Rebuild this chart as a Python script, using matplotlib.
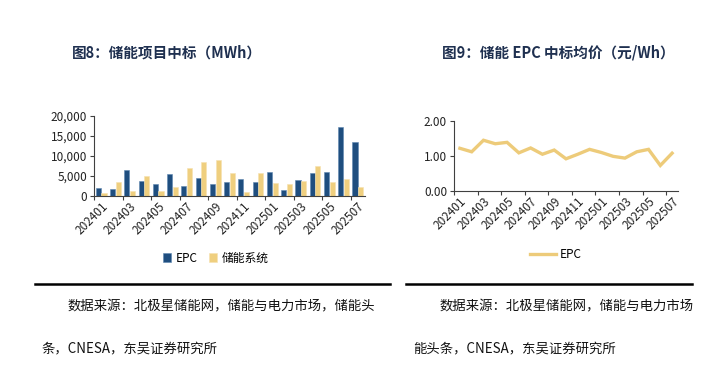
import matplotlib
matplotlib.use("Agg")
import matplotlib.pyplot as plt
import numpy as np

plt.rcParams['font.family'] = ['Noto Sans CJK SC', 'DejaVu Sans']

months = ["202401", "202402", "202403", "202404", "202405", "202406", "202407",
          "202408", "202409", "202410", "202411", "202412", "202501", "202502",
          "202503", "202504", "202505", "202506", "202507"]
epc_mwh = [2000, 1700, 6600, 3800, 3100, 5600, 2600, 4500, 3100, 3600, 4300,
           3600, 6100, 1500, 4000, 5800, 5900, 17300, 13500]
system_mwh = [800, 3500, 1200, 5100, 1300, 2300, 6900, 8500, 9000, 5800, 1000,
              5800, 3200, 3100, 3700, 7600, 3600, 4300, 2200]
epc_price = [1.22, 1.12, 1.45, 1.35, 1.39, 1.09, 1.23, 1.05, 1.17, 0.92, 1.05,
             1.19, 1.10, 0.99, 0.94, 1.12, 1.19, 0.73, 1.08]

title_left = "图8：储能项目中标（MWh）"
title_right = "图9：储能 EPC 中标均价（元/Wh）"
src1_left = "数据来源：北极星储能网，储能与电力市场，储能头"
src2_left = "条，CNESA，东吴证券研究所"
src1_right = "数据来源：北极星储能网，储能与电力市场"
src2_right = "能头条，CNESA，东吴证券研究所"

W, H = 711, 372
fig = plt.figure(figsize=(W / 100, H / 100), dpi=100)

def fx(px):
    return px / W

def fy(py):
    return 1 - py / H

blue = "#1F4E7F"
yellow = "#EFCF7F"
title_color = "#1F3050"
axis_color = "#404040"
x = np.arange(len(months))

# Left chart
axL = fig.add_axes([fx(94), fy(196), fx(365) - fx(94), fy(116) - fy(196)])
bw = 0.36
axL.bar(x - 0.2, epc_mwh, width=bw, color=blue, edgecolor="#5E86B0", linewidth=0.4, label="EPC")
axL.bar(x + 0.2, system_mwh, width=bw, color=yellow, edgecolor="#F6E2B0", linewidth=0.4, label="储能系统")
axL.set_xlim(-0.5, len(months) - 0.5)
axL.set_ylim(0, 20000)
axL.set_yticks([0, 5000, 10000, 15000, 20000])
axL.set_yticklabels([f"{v:,}" for v in [0, 5000, 10000, 15000, 20000]])

# Right chart
axR = fig.add_axes([fx(454), fy(191), fx(678) - fx(454), fy(121) - fy(191)])
axR.plot(x, epc_price, color="#EDCB7A", linewidth=2.4, label="EPC", solid_joinstyle="miter")
axR.set_xlim(-0.5, len(months) - 0.5)
axR.set_ylim(0, 2.0)
axR.set_yticks([0, 1.0, 2.0])
axR.set_yticklabels(["0.00", "1.00", "2.00"])

for ax in (axL, axR):
    for s in ("top", "right"):
        ax.spines[s].set_visible(False)
    for s in ("left", "bottom"):
        ax.spines[s].set_color(axis_color)
        ax.spines[s].set_linewidth(0.8)
    ax.set_xticks(x[::2])
    ax.set_xticklabels(months[::2], rotation=45, ha="right", rotation_mode="anchor")
    ax.set_xticks(np.arange(-0.5, len(months), 2), minor=True)
    ax.tick_params(axis="x", which="major", length=0, pad=3, labelsize=8.5, colors="#222222")
    ax.tick_params(axis="x", which="minor", length=3, width=0.8, color=axis_color, direction="out")
    ax.tick_params(axis="y", length=3, width=0.8, color=axis_color, labelsize=8.5, pad=2, labelcolor="#222222")

legL = axL.legend(loc="center", bbox_to_anchor=(fx(216), fy(258)), bbox_transform=fig.transFigure,
                  ncol=2, frameon=False, fontsize=8.5, handlelength=0.7, handleheight=0.7,
                  handletextpad=0.4, columnspacing=0.9)
legR = axR.legend(loc="center", bbox_to_anchor=(fx(556), fy(255)), bbox_transform=fig.transFigure,
                  frameon=False, fontsize=8.5, handlelength=2.2, handletextpad=0.3)

# Titles
fig.text(fx(72), fy(53), title_left, fontsize=10.5, fontweight="bold", color=title_color, va="center", ha="left")
fig.text(fx(442), fy(53), title_right, fontsize=10.5, fontweight="bold", color=title_color, va="center", ha="left")

# Rules
fig.add_artist(plt.Line2D([fx(35), fx(390)], [fy(284), fy(284)], color="black", linewidth=1.8))
fig.add_artist(plt.Line2D([fx(406), fx(692)], [fy(284), fy(284)], color="black", linewidth=1.8))

# Sources
fig.text(fx(68), fy(306), src1_left, fontsize=9.6, color="#111111", va="center", ha="left")
fig.text(fx(42), fy(348), src2_left, fontsize=9.6, color="#111111", va="center", ha="left")
fig.text(fx(440), fy(306), src1_right, fontsize=9.6, color="#111111", va="center", ha="left")
fig.text(fx(413), fy(348), src2_right, fontsize=9.6, color="#111111", va="center", ha="left")

fig.savefig("out.png", dpi=100)
